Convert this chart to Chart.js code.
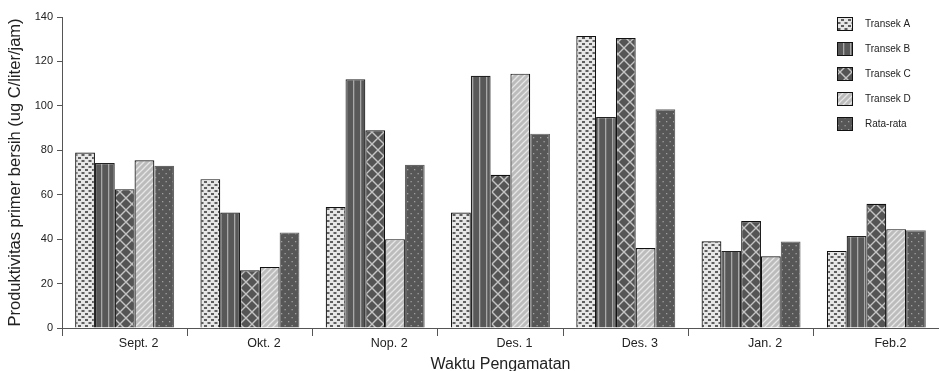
<!DOCTYPE html>
<html>
<head>
<meta charset="utf-8">
<script src="https://cdn.jsdelivr.net/npm/chart.js@4.4.1/dist/chart.umd.min.js"></script>
<style>
  html, body { margin: 0; padding: 0; background: #fff; }
  #wrap { width: 939px; height: 371px; position: relative; }
</style>
</head>
<body>
<div id="wrap"><canvas id="chart" width="939" height="371"></canvas></div>
<script>
// data
const categories = ['Sept. 2', 'Okt. 2', 'Nop. 2', 'Des. 1', 'Des. 3', 'Jan. 2', 'Feb.2'];
const transekA = [79, 67, 54.5, 52, 131.5, 39, 34.7];
const transekB = [74.3, 52, 112, 113.5, 95, 34.7, 41.4];
const transekC = [62.5, 26, 89, 69, 130.5, 48.2, 55.9];
const transekD = [75.5, 27.5, 40, 114.5, 36, 32.3, 44.5];
const rataRata = [73, 43, 73.5, 87.5, 98.5, 38.9, 44];
const yTicks = [0, 20, 40, 60, 80, 100, 120, 140];

const FONT = '"Liberation Sans", Arial, sans-serif';

// --- fill patterns ---
function makeTile(w, h, draw) {
  const c = document.createElement('canvas');
  c.width = w; c.height = h;
  const g = c.getContext('2d');
  draw(g, w, h);
  return document.createElement('canvas').getContext('2d').createPattern(c, 'repeat');
}
const patA = makeTile(7, 6, (g, w, h) => {
  g.fillStyle = '#e6e6e6'; g.fillRect(0, 0, w, h);
  g.fillStyle = '#5e5e5e';
  g.fillRect(1, 1, 3, 2);
  g.fillRect(4.5, 4, 3, 2);
  g.fillRect(-2.5, 4, 3, 2);
});
const patB = makeTile(7, 4, (g, w, h) => {
  g.fillStyle = '#585858'; g.fillRect(0, 0, w, h);
  g.fillStyle = '#a8a8a8'; g.fillRect(3, 0, 1.3, h);
});
const patC = makeTile(12, 12, (g, w, h) => {
  g.fillStyle = '#555'; g.fillRect(0, 0, w, h);
  g.strokeStyle = '#c4c4c4'; g.lineWidth = 1.4;
  g.beginPath();
  g.moveTo(0, 0); g.lineTo(w, h);
  g.moveTo(w, 0); g.lineTo(0, h);
  g.stroke();
});
const patD = makeTile(6, 6, (g, w, h) => {
  g.fillStyle = '#bcbcbc'; g.fillRect(0, 0, w, h);
  g.strokeStyle = '#e6e6e6'; g.lineWidth = 1.3;
  g.beginPath();
  g.moveTo(-1, h + 1); g.lineTo(w + 1, -1);
  g.moveTo(-1, 1); g.lineTo(1, -1);
  g.moveTo(w - 1, h + 1); g.lineTo(w + 1, h - 1);
  g.stroke();
});
const patR = makeTile(7, 8, (g, w, h) => {
  g.fillStyle = '#575757'; g.fillRect(0, 0, w, h);
  g.fillStyle = '#a0a0a0';
  g.fillRect(1, 1, 1.3, 1.3);
  g.fillRect(4.5, 5, 1.3, 1.3);
});

const seriesNames = ['Transek A', 'Transek B', 'Transek C', 'Transek D', 'Rata-rata'];
const seriesData = [transekA, transekB, transekC, transekD, rataRata];
const fills = [patA, patB, patC, patD, patR];
const borders = ['#111', '#222', '#111', '#111', '#666'];

const datasets = seriesNames.map((name, i) => ({
  label: name,
  data: seriesData[i],
  backgroundColor: fills[i],
  borderColor: borders[i],
  borderWidth: 1.2,
  borderSkipped: 'bottom',
  categoryPercentage: 0.79,
  barPercentage: 1
}));

// legend drawn at top right, as in the original
const sideLegend = {
  id: 'sideLegend',
  afterDraw(chart) {
    const ctx = chart.ctx;
    ctx.save();
    ctx.font = '10px ' + FONT;
    ctx.textBaseline = 'middle';
    chart.data.datasets.forEach((ds, i) => {
      const x = 837, y = 17 + i * 25;
      ctx.fillStyle = ds.backgroundColor;
      ctx.fillRect(x, y, 16, 14);
      ctx.strokeStyle = '#111';
      ctx.lineWidth = 1;
      ctx.strokeRect(x + 0.5, y + 0.5, 15, 13);
      ctx.fillStyle = '#222';
      ctx.fillText(ds.label, x + 28, y + 7);
    });
    ctx.restore();
  }
};

new Chart(document.getElementById('chart'), {
  type: 'bar',
  data: { labels: categories, datasets: datasets },
  options: {
    responsive: false,
    animation: false,
    layout: { padding: { top: 17, right: 0, left: 0, bottom: 0 } },
    plugins: { legend: { display: false }, tooltip: { enabled: false } },
    scales: {
      x: {
        offset: true,
        grid: { drawOnChartArea: false, offset: true, tickLength: 8, color: '#555' },
        border: { color: '#555', width: 1 },
        ticks: { color: '#222', font: { size: 12.5, family: FONT }, padding: 0, labelOffset: 14 },
        title: { display: true, text: 'Waktu Pengamatan', color: '#222', font: { size: 16, family: FONT }, padding: { top: 4, bottom: -3 } },
        afterFit(scale) { scale.height = 43; }
      },
      y: {
        min: 0, max: 140,
        afterBuildTicks(scale) { scale.ticks = yTicks.map(v => ({ value: v })); },
        grid: { drawOnChartArea: false, tickLength: 5, color: '#555' },
        border: { color: '#555', width: 1 },
        ticks: { color: '#222', font: { size: 11, family: FONT }, padding: 4 },
        title: { display: true, text: 'Produktivitas primer bersih (ug C/liter/jam)', color: '#222', font: { size: 16.5, family: FONT }, padding: { top: 6, bottom: 4 } },
        afterFit(scale) { scale.width = 62; }
      }
    }
  },
  plugins: [sideLegend]
});
</script>
</body>
</html>
